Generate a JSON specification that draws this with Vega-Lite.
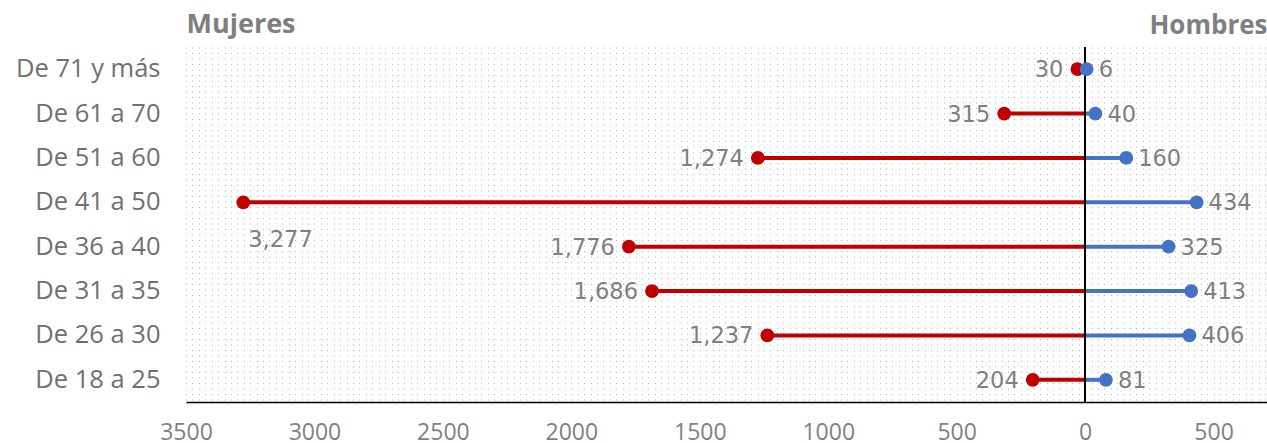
{
  "$schema": "https://vega.github.io/schema/vega-lite/v6.json",
  "width": 1081,
  "height": 355,
  "autosize": {"type": "none"},
  "padding": {"left": 186, "top": 47, "right": 0, "bottom": 41},
  "background": "white",
  "config": {"view": {"stroke": null}},
  "data": {
    "values": [
      {"edad": "De 71 y más", "sexo": "Mujeres", "valor": -30, "cantidad": 30},
      {"edad": "De 71 y más", "sexo": "Hombres", "valor": 6, "cantidad": 6},
      {"edad": "De 61 a 70", "sexo": "Mujeres", "valor": -315, "cantidad": 315},
      {"edad": "De 61 a 70", "sexo": "Hombres", "valor": 40, "cantidad": 40},
      {"edad": "De 51 a 60", "sexo": "Mujeres", "valor": -1274, "cantidad": 1274},
      {"edad": "De 51 a 60", "sexo": "Hombres", "valor": 160, "cantidad": 160},
      {"edad": "De 41 a 50", "sexo": "Mujeres", "valor": -3277, "cantidad": 3277},
      {"edad": "De 41 a 50", "sexo": "Hombres", "valor": 434, "cantidad": 434},
      {"edad": "De 36 a 40", "sexo": "Mujeres", "valor": -1776, "cantidad": 1776},
      {"edad": "De 36 a 40", "sexo": "Hombres", "valor": 325, "cantidad": 325},
      {"edad": "De 31 a 35", "sexo": "Mujeres", "valor": -1686, "cantidad": 1686},
      {"edad": "De 31 a 35", "sexo": "Hombres", "valor": 413, "cantidad": 413},
      {"edad": "De 26 a 30", "sexo": "Mujeres", "valor": -1237, "cantidad": 1237},
      {"edad": "De 26 a 30", "sexo": "Hombres", "valor": 406, "cantidad": 406},
      {"edad": "De 18 a 25", "sexo": "Mujeres", "valor": -204, "cantidad": 204},
      {"edad": "De 18 a 25", "sexo": "Hombres", "valor": 81, "cantidad": 81}
    ]
  },
  "layer": [
    {
      "mark": {"type": "point", "opacity": 0},
      "encoding": {
        "x": {
          "field": "valor", "type": "quantitative",
          "scale": {"domain": [-3500, 708], "nice": false, "zero": false},
          "axis": {
            "orient": "top",
            "values": [-3500,-3475,-3450,-3425,-3400,-3375,-3350,-3325,-3300,-3275,-3250,-3225,-3200,-3175,-3150,-3125,-3100,-3075,-3050,-3025,-3000,-2975,-2950,-2925,-2900,-2875,-2850,-2825,-2800,-2775,-2750,-2725,-2700,-2675,-2650,-2625,-2600,-2575,-2550,-2525,-2500,-2475,-2450,-2425,-2400,-2375,-2350,-2325,-2300,-2275,-2250,-2225,-2200,-2175,-2150,-2125,-2100,-2075,-2050,-2025,-2000,-1975,-1950,-1925,-1900,-1875,-1850,-1825,-1800,-1775,-1750,-1725,-1700,-1675,-1650,-1625,-1600,-1575,-1550,-1525,-1500,-1475,-1450,-1425,-1400,-1375,-1350,-1325,-1300,-1275,-1250,-1225,-1200,-1175,-1150,-1125,-1100,-1075,-1050,-1025,-1000,-975,-950,-925,-900,-875,-850,-825,-800,-775,-750,-725,-700,-675,-650,-625,-600,-575,-550,-525,-500,-475,-450,-425,-400,-375,-350,-325,-300,-275,-250,-225,-200,-175,-150,-125,-100,-75,-50,-25,0,25,50,75,100,125,150,175,200,225,250,275,300,325,350,375,400,425,450,475,500,525,550,575,600,625,650,675,700],
            "grid": true, "gridDash": [1, 4.5], "gridColor": "#b4b4b4", "gridWidth": 1,
            "labels": false, "ticks": false, "domain": false,
            "title": "Hombres", "titleAnchor": "end", "titleAlign": "right", "titleFontSize": 26, "titleFontWeight": "bold",
            "titleColor": "#7f7f7f", "titleFont": "Open Sans", "titlePadding": 9
          }
        }
      }
    },
    {
      "encoding": {
        "y": {
          "field": "edad", "type": "nominal",
          "sort": ["De 71 y más", "De 61 a 70", "De 51 a 60", "De 41 a 50", "De 36 a 40", "De 31 a 35", "De 26 a 30", "De 18 a 25"],
          "axis": {
            "ticks": false, "domain": false, "labelFont": "Open Sans", "labelFontSize": 25.5, "labelColor": "#707070", "labelPadding": 26,
            "title": "Mujeres", "titleAngle": 0, "titleAlign": "left", "titleBaseline": "bottom", "titleX": 0, "titleY": -9,
            "titleFont": "Open Sans", "titleFontSize": 27, "titleFontWeight": "bold", "titleColor": "#7f7f7f"
          }
        },
        "x": {
          "field": "valor", "type": "quantitative",
          "scale": {"domain": [-3500, 708], "nice": false, "zero": false},
          "axis": {
            "orient": "bottom", "title": null, "grid": false, "ticks": false, "domainColor": "#000000", "domainWidth": 1.5,
            "values": [-3500, -3000, -2500, -2000, -1500, -1000, -500, 0, 500], "labelFlush": false,
            "labelExpr": "abs(datum.value)", "labelFont": "Open Sans", "labelFontSize": 23, "labelColor": "#7f7f7f", "labelPadding": 19
          }
        },
        "color": {"field": "sexo", "type": "nominal", "scale": {"domain": ["Mujeres", "Hombres"], "range": ["#c00000", "#4472c4"]}, "legend": null}
      },
      "layer": [
        {"mark": {"type": "rule", "strokeWidth": 4}, "encoding": {"x2": {"datum": 0}}},
        {"mark": {"type": "rule", "color": "#000000", "strokeWidth": 1.5}, "encoding": {"x": {"datum": 0}, "y": null, "color": null}},
        {"mark": {"type": "circle", "size": 190, "opacity": 1}},
        {
          "transform": [{"filter": "datum.sexo === 'Mujeres' && datum.edad !== 'De 41 a 50'"}],
          "mark": {"type": "text", "align": "right", "baseline": "middle", "dx": -14, "dy": 1, "font": "DejaVu Sans", "fontSize": 22.5, "color": "#7f7f7f"},
          "encoding": {"text": {"field": "cantidad", "type": "quantitative", "format": ","}, "color": null}
        },
        {
          "transform": [{"filter": "datum.sexo === 'Mujeres' && datum.edad === 'De 41 a 50'"}],
          "mark": {"type": "text", "align": "left", "baseline": "middle", "dx": 5, "dy": 38, "font": "DejaVu Sans", "fontSize": 22.5, "color": "#7f7f7f"},
          "encoding": {"text": {"field": "cantidad", "type": "quantitative", "format": ","}, "color": null}
        },
        {
          "transform": [{"filter": "datum.sexo === 'Hombres'"}],
          "mark": {"type": "text", "align": "left", "baseline": "middle", "dx": 12, "dy": 1, "font": "DejaVu Sans", "fontSize": 22.5, "color": "#7f7f7f"},
          "encoding": {"text": {"field": "cantidad", "type": "quantitative", "format": ","}, "color": null}
        }
      ]
    }
  ],
  "resolve": {"scale": {"x": "independent"}}
}
